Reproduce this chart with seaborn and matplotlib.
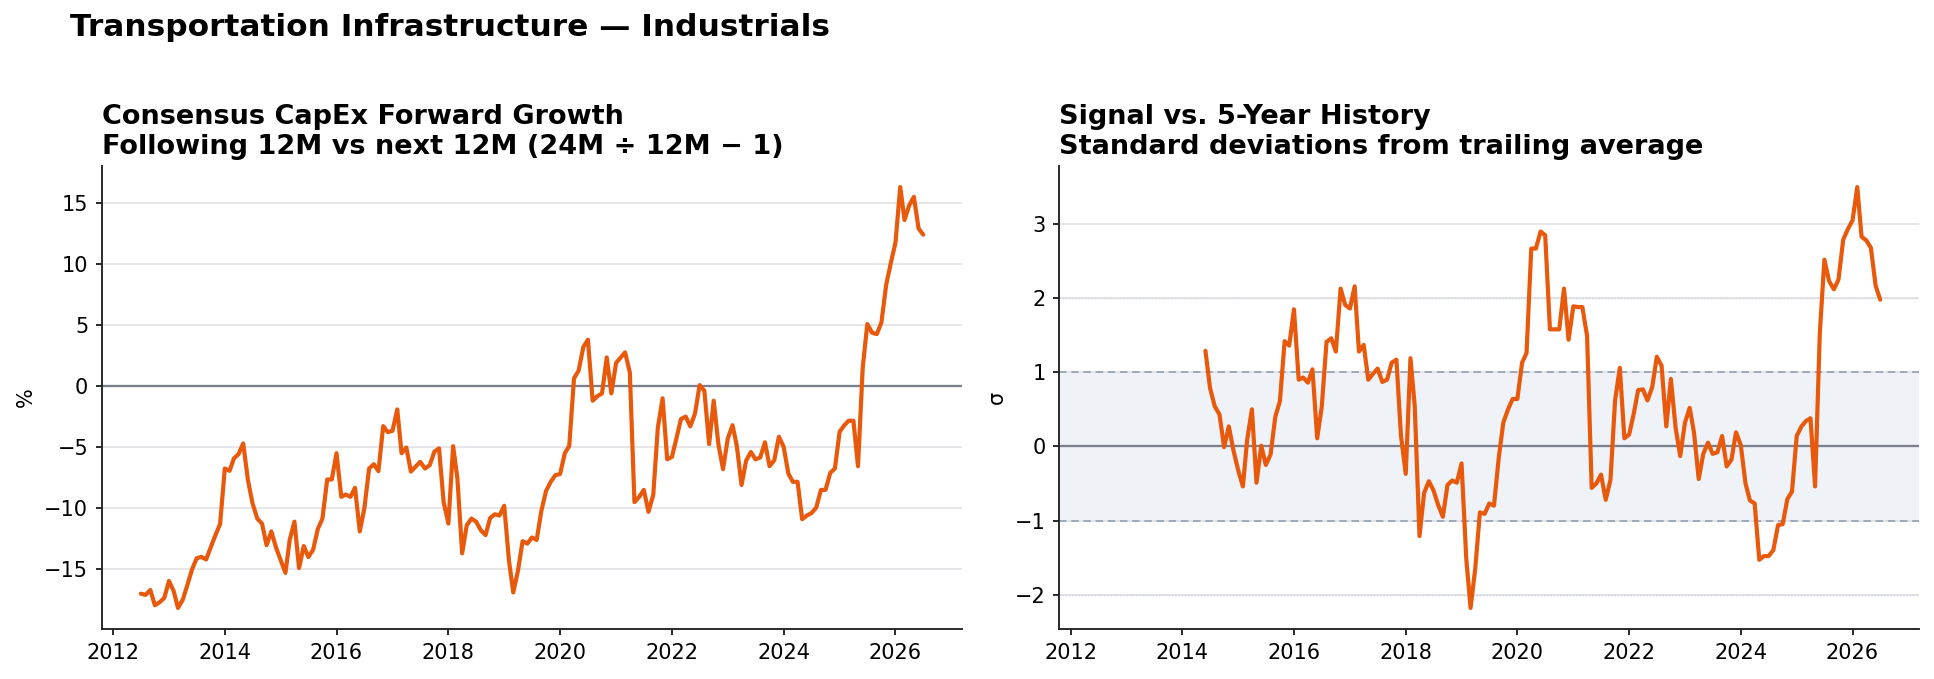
import numpy as np
import pandas as pd
import matplotlib
matplotlib.use("Agg")
import matplotlib.pyplot as plt
import matplotlib.dates as mdates
import seaborn as sns

# ---------------- data ----------------
start_month = "2012-07-01"
n_months = 169
zscore_offset = 23  # first month with a z-score (2014-06)

capex_growth = [
    -17.0, -17.1, -16.7, -17.95, -17.7, -17.35, -15.96, -16.8, -18.17, -17.5, -16.3, -15.0,
    -14.1, -13.99, -14.2, -13.2, -12.2, -11.3, -6.75, -6.94, -5.93, -5.57, -4.7, -7.7,
    -9.6, -10.85, -11.26, -13.03, -11.9, -13.2, -14.26, -15.3, -12.6, -11.1, -14.9, -13.1,
    -14.0, -13.4, -11.7, -10.85, -7.65, -7.65, -5.5, -9.07, -8.88, -9.07, -8.33, -11.9,
    -10.0, -6.75, -6.4, -6.97, -3.28, -3.77, -3.66, -1.91, -5.5, -5.03, -7.0, -6.6,
    -6.2, -6.75, -6.48, -5.38, -5.1, -9.5, -11.26, -4.92, -7.57, -13.7, -11.4, -10.85,
    -11.1, -11.8, -12.2, -10.8, -10.5, -10.6, -9.8, -14.3, -16.9, -15.1, -12.7, -12.9,
    -12.4, -12.6, -10.2, -8.6, -7.84, -7.3, -7.2, -5.5, -4.9, 0.63, 1.26, 3.2,
    3.8, -1.2, -0.82, -0.6, 2.35, -0.6, 1.9, 2.35, 2.76, 1.1, -9.5, -9.07,
    -8.5, -10.3, -8.9, -3.4, -1.0, -6.0, -5.8, -4.2, -2.7, -2.5, -3.3, -2.24,
    0.08, -0.38, -4.75, -1.2, -4.8, -6.8, -4.3, -3.2, -4.9, -8.1, -6.1, -5.4,
    -6.0, -5.85, -4.6, -6.56, -6.07, -4.15, -4.97, -7.16, -7.84, -7.84, -10.9, -10.6,
    -10.4, -9.95, -8.5, -8.5, -7.1, -6.75, -3.74, -3.2, -2.84, -2.84, -6.56, 1.53,
    5.08, 4.37, 4.26, 5.2, 8.28, 10.05, 11.75, 16.3, 13.6, 14.8, 15.5, 12.9,
    12.4,
]

signal_z = [
    1.29, 0.79, 0.54, 0.43, -0.01, 0.27, -0.05, -0.32, -0.54, 0.09, 0.5, -0.49, 0.01,
    -0.25, -0.11, 0.4, 0.61, 1.42, 1.36, 1.85, 0.9, 0.93, 0.86, 1.04, 0.11,
    0.54, 1.41, 1.46, 1.28, 2.13, 1.91, 1.86, 2.16, 1.28, 1.37, 0.9, 0.98,
    1.05, 0.87, 0.9, 1.13, 1.17, 0.14, -0.37, 1.19, 0.54, -1.21, -0.63, -0.47,
    -0.59, -0.79, -0.95, -0.52, -0.46, -0.49, -0.23, -1.52, -2.18, -1.64, -0.89, -0.91,
    -0.77, -0.8, -0.16, 0.32, 0.5, 0.64, 0.64, 1.13, 1.26, 2.67, 2.67, 2.9,
    2.85, 1.58, 1.58, 1.58, 2.13, 1.44, 1.89, 1.88, 1.88, 1.49, -0.56, -0.5,
    -0.38, -0.72, -0.45, 0.62, 1.06, 0.11, 0.16, 0.45, 0.76, 0.77, 0.62, 0.8,
    1.21, 1.09, 0.27, 0.91, 0.25, -0.13, 0.32, 0.52, 0.19, -0.44, -0.1, 0.05,
    -0.1, -0.08, 0.14, -0.27, -0.18, 0.19, 0.02, -0.5, -0.73, -0.77, -1.53, -1.48,
    -1.48, -1.4, -1.06, -1.05, -0.71, -0.61, 0.14, 0.27, 0.34, 0.38, -0.54, 1.53,
    2.52, 2.23, 2.12, 2.25, 2.79, 2.93, 3.05, 3.5, 2.83, 2.78, 2.68, 2.17,
    1.98,
]

suptitle = "Transportation Infrastructure \u2014 Industrials"
left_title = "Consensus CapEx Forward Growth\nFollowing 12M vs next 12M (24M \u00f7 12M \u2212 1)"
right_title = "Signal vs. 5-Year History\nStandard deviations from trailing average"
left_ylabel = "%"
right_ylabel = "\u03c3"

# ---------------- frames ----------------
dates = pd.date_range(start_month, periods=n_months, freq="MS")
df_left = pd.DataFrame({"date": dates, "value": capex_growth})
df_right = pd.DataFrame({"date": dates[zscore_offset:], "value": signal_z})

# ---------------- style ----------------
sns.set_theme(style="ticks")
plt.rcParams["font.family"] = ["DejaVu Sans"]
plt.rcParams["text.color"] = "black"
plt.rcParams["axes.labelcolor"] = "black"
plt.rcParams["axes.titlecolor"] = "black"
plt.rcParams["axes.edgecolor"] = "#222222"
plt.rcParams["axes.linewidth"] = 0.9
plt.rcParams["xtick.color"] = "#222222"
plt.rcParams["ytick.color"] = "#222222"
plt.rcParams["xtick.labelcolor"] = "black"
plt.rcParams["ytick.labelcolor"] = "black"
plt.rcParams["xtick.major.size"] = 3.0
plt.rcParams["ytick.major.size"] = 3.0
plt.rcParams["xtick.major.width"] = 0.9
plt.rcParams["ytick.major.width"] = 0.9

LINE = "#E8590C"
GRID = "#e0e0e6"
ZERO = "#7b808c"

DPI = 150
fig = plt.figure(figsize=(1934 / DPI, 679 / DPI), dpi=DPI)
W, H = 1934, 679
ax1 = fig.add_axes([101.7 / W, 1 - 629 / H, 860.6 / W, 463 / H])
ax2 = fig.add_axes([1059.3 / W, 1 - 629 / H, 860.0 / W, 463 / H], sharex=ax1)

# left panel
ax1.grid(axis="y", color=GRID, linewidth=0.8, zorder=0)
ax1.axhline(0, color=ZERO, linewidth=1.1, zorder=1)
sns.lineplot(data=df_left, x="date", y="value", ax=ax1, color=LINE, linewidth=2.0, zorder=3)
ax1.set_ylabel(left_ylabel, fontsize=10)
ax1.set_xlabel("")
ax1.set_title(left_title, loc="left", fontsize=13, fontweight="bold", pad=6)

# right panel
ax2.grid(axis="y", color=GRID, linewidth=0.8, zorder=0)
ax2.axhspan(-1, 1, color="#eff3f8", zorder=0.5, linewidth=0)
for y in (1, -1):
    ax2.axhline(y, color="#9ba7b9", linestyle=(0, (4, 2.5)), linewidth=0.9, zorder=1)
for y in (2, -2):
    ax2.axhline(y, color="#cdd4df", linestyle=(0, (1, 1.2)), linewidth=0.7, zorder=1)
ax2.axhline(0, color=ZERO, linewidth=1.1, zorder=1.5)
sns.lineplot(data=df_right, x="date", y="value", ax=ax2, color=LINE, linewidth=2.0, zorder=3)
ax2.set_ylabel(right_ylabel, fontsize=10)
ax2.set_xlabel("")
ax2.set_title(right_title, loc="left", fontsize=13, fontweight="bold", pad=6)

for ax in (ax1, ax2):
    sns.despine(ax=ax)
    ax.xaxis.set_major_locator(mdates.YearLocator(2))
    ax.xaxis.set_major_formatter(mdates.DateFormatter("%Y"))
    ax.tick_params(labelsize=10)
    ax.margins(x=0.05, y=0.05)
ax2.tick_params(axis="x", labelbottom=True)
ax1.set_yticks([-15, -10, -5, 0, 5, 10, 15])
ax2.set_yticks([-2, -1, 0, 1, 2, 3])

fig.text(70 / W, 1 - 27 / H, suptitle, fontsize=15, fontweight="bold", ha="left", va="center")

fig.savefig("out.png", dpi=DPI)
